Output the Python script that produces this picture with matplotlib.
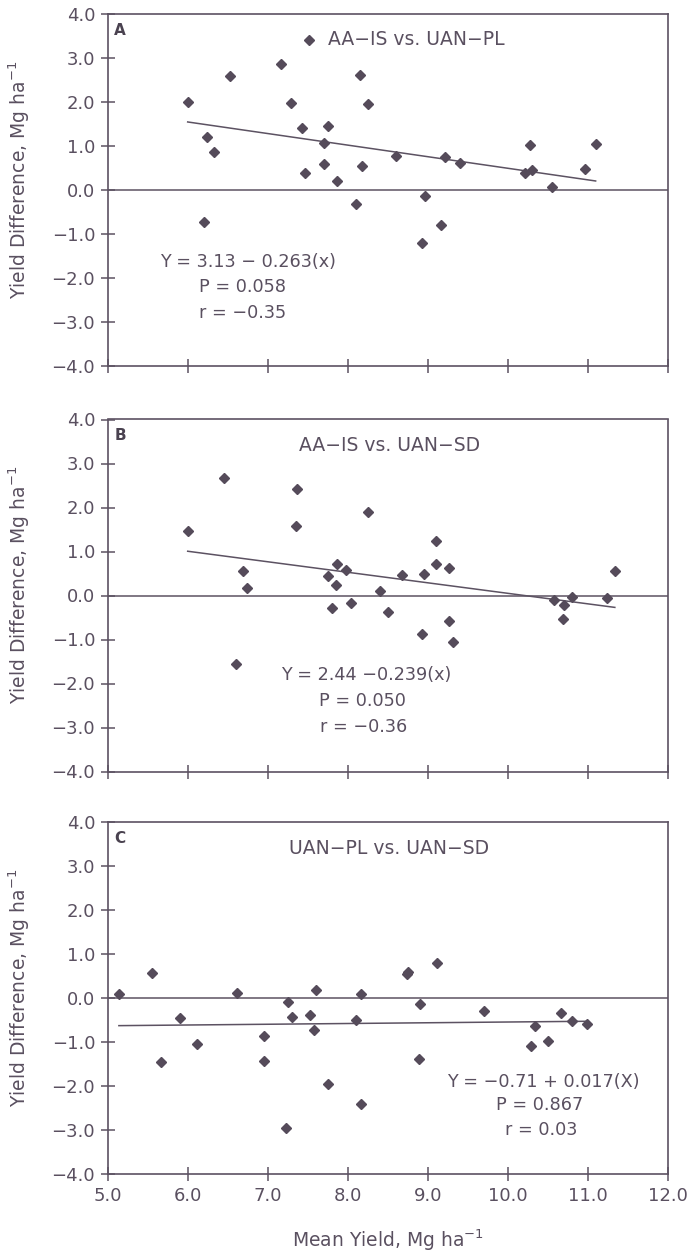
import numpy as np
import matplotlib
matplotlib.use('Agg')
import matplotlib.pyplot as plt
from matplotlib.ticker import FuncFormatter, MultipleLocator

# Panel A: AA-IS vs. UAN-PL
a_x = [6.00, 6.24, 6.33, 6.21, 6.53, 7.17, 7.29, 7.52, 7.43, 7.75, 7.70, 7.47, 7.70, 7.87, 8.16,
       8.25, 8.18, 8.10, 8.61, 8.97, 8.93, 9.22, 9.17, 9.41, 10.28, 10.22, 10.30, 10.56, 10.97, 11.10]
a_y = [2.01, 1.20, 0.87, -0.73, 2.59, 2.88, 1.98, 3.41, 1.42, 1.46, 1.08, 0.39, 0.59, 0.22, 2.61,
       1.95, 0.56, -0.32, 0.77, -0.12, -1.21, 0.75, -0.80, 0.63, 1.02, 0.39, 0.47, 0.07, 0.49, 1.05]

# Panel B: AA-IS vs. UAN-SD
b_x = [6.00, 6.45, 6.69, 6.74, 6.60, 7.37, 7.35, 8.26, 7.87, 7.98, 7.75, 7.85, 7.80, 8.04, 8.40,
       8.50, 8.68, 8.96, 8.93, 9.10, 9.10, 9.27, 9.27, 9.32, 10.58, 10.70, 10.69, 10.80, 11.24, 11.34]
b_y = [1.47, 2.67, 0.56, 0.17, -1.55, 2.43, 1.57, 1.90, 0.71, 0.59, 0.45, 0.23, -0.29, -0.18, 0.10,
       -0.38, 0.46, 0.49, -0.88, 1.25, 0.71, 0.62, -0.58, -1.06, -0.11, -0.22, -0.54, -0.04, -0.05, 0.56]

# Panel C: UAN-PL vs. UAN-SD
c_x = [5.14, 5.56, 5.67, 5.90, 6.12, 6.62, 6.96, 6.96, 7.26, 7.30, 7.23, 7.53, 7.61, 7.58, 7.76,
       8.10, 8.17, 8.17, 8.74, 8.76, 9.12, 8.90, 8.89, 9.70, 10.34, 10.29, 10.50, 10.67, 10.80, 10.99]
c_y = [0.09, 0.58, -1.44, -0.44, -1.04, 0.13, -0.85, -1.42, -0.08, -0.42, -2.94, -0.39, 0.19, -0.73, -1.94,
       -0.50, 0.09, -2.40, 0.56, 0.59, 0.81, -0.14, -1.38, -0.28, -0.62, -1.09, -0.97, -0.34, -0.52, -0.59]

letters = ['A', 'B', 'C']
titles = ['AA\u2212IS vs. UAN\u2212PL', 'AA\u2212IS vs. UAN\u2212SD', 'UAN\u2212PL vs. UAN\u2212SD']
intercepts = [3.13, 2.44, -0.71]
slopes = [-0.263, -0.239, 0.017]
stat_lines = [
    ['Y = 3.13 \u2212 0.263(x)', 'P = 0.058', 'r = \u22120.35'],
    ['Y = 2.44 \u22120.239(x)', 'P = 0.050', 'r = \u22120.36'],
    ['Y = \u22120.71 + 0.017(X)', 'P = 0.867', 'r = 0.03'],
]

INK = '#5c5262'
TXT = '#5a5060'

plt.rcParams.update({
    'font.family': 'DejaVu Sans',
    'mathtext.default': 'regular',
    'text.color': TXT,
    'axes.edgecolor': INK,
    'xtick.color': INK,
    'ytick.color': INK,
    'xtick.labelcolor': TXT,
    'ytick.labelcolor': TXT,
})

fig = plt.figure(figsize=(6.93, 12.5), dpi=100)
left, width, height = 0.1554, 0.808, 0.2816
bottoms = [0.707, 0.3828, 0.0606]

# text placement (data coords): title centre, stats centre x, stats y
title_pos = [(8.86, 3.42), (8.52, 3.42), (8.52, 3.41)]
stat_cx = [(6.75, 6.69, 6.68), (8.23, 8.19, 8.2), (10.45, 10.40, 10.42)]
stat_cy = [(-1.63, -2.20, -2.78), (-1.80, -2.39, -2.99), (-1.90, -2.43, -2.99)]

fmt = FuncFormatter(lambda v, p: f'{v:.1f}'.replace('-', '\u2212'))
data = [(a_x, a_y), (b_x, b_y), (c_x, c_y)]

for i, (xs, ys) in enumerate(data):
    ax = fig.add_axes([left, bottoms[i], width, height])
    ax.set_xlim(5, 12)
    ax.set_ylim(-4, 4)
    for s in ax.spines.values():
        s.set_linewidth(1.2)

    ax.axhline(0, color=INK, lw=1.1)
    xl = np.array([min(xs), max(xs)])
    ax.plot(xl, intercepts[i] + slopes[i] * xl, color=INK, lw=1.1)
    ax.plot(xs, ys, 'D', ms=4.8, color='#554b5a', mec='#554b5a')

    ax.xaxis.set_major_locator(MultipleLocator(1.0))
    ax.yaxis.set_major_locator(MultipleLocator(1.0))
    ax.yaxis.set_major_formatter(fmt)
    ax.xaxis.set_major_formatter(fmt)
    ax.tick_params(direction='inout', length=10, width=1.1, labelsize=13, pad=4)
    if i < 2:
        ax.tick_params(axis='x', labelbottom=False)
    else:
        ax.set_xlabel('Mean Yield, Mg ha$^{-1}$', fontsize=13.5, color=TXT)
        ax.xaxis.set_label_coords(0.5, -0.15)

    ax.set_ylabel('Yield Difference, Mg ha$^{-1}$', fontsize=13.5, color=TXT)
    ax.yaxis.set_label_coords(-0.135, 0.53)

    ax.text(0.012, 0.975, letters[i], transform=ax.transAxes, fontsize=11,
            fontweight='bold', ha='left', va='top', color='#4a4250')
    ax.text(title_pos[i][0], title_pos[i][1], titles[i], fontsize=13.5,
            ha='center', va='center')
    for txt, cx, cy in zip(stat_lines[i], stat_cx[i], stat_cy[i]):
        ax.text(cx, cy, txt, fontsize=12.7, ha='center', va='center')

fig.savefig('out.png', dpi=100, facecolor='white')
